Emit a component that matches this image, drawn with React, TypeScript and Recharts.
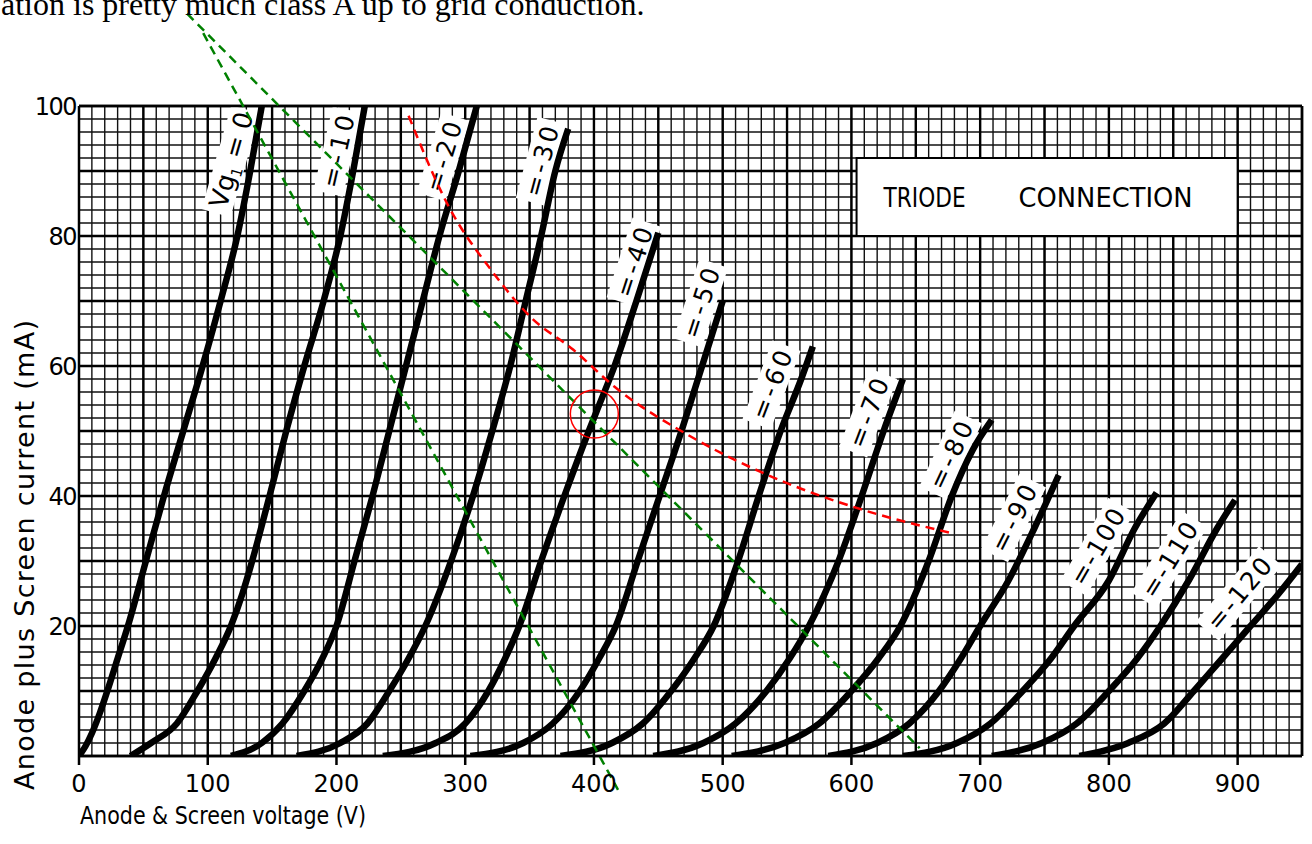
import React from "react";
import {
  LineChart,
  Line,
  XAxis,
  YAxis,
  CartesianGrid,
  ReferenceLine,
  ReferenceDot,
  ReferenceArea,
  Label,
} from "recharts";

// tick labels
const voltTicks = [0, 100, 200, 300, 400, 500, 600, 700, 800, 900];
const currentTicks = [20, 40, 60, 80, 100];

// graph paper rulings (V and mA)
const minorVolts = Array.from({ length: 94 }, (_, k) => (k + 1) * 10);
const majorVolts = Array.from({ length: 19 }, (_, k) => (k + 1) * 50);
const minorAmps = Array.from({ length: 49 }, (_, k) => (k + 1) * 2);
const majorAmps = [10, 20, 30, 40, 50, 60, 70, 80, 90, 100];
const VOLT_MAX = 950;

// anode characteristics, [volts, mA]
const vg0 = [[0, 0], [5, 1.5], [10, 3.5], [16, 6.5], [22, 10], [30, 15], [38, 20], [52, 30], [66, 40], [81, 50], [96, 60], [110, 70], [123, 80], [133, 90], [142, 100]];
const vg10 = [[40, 0], [56, 2], [76, 5], [92, 10], [106, 15], [118, 20], [127, 25], [134.5, 30], [148, 40], [161, 50], [175, 60], [190, 70], [203, 80], [213, 90], [222, 100]];
const vg20 = [[118, 0], [142, 2], [158, 5], [175, 10], [189, 15], [200, 20], [214, 30], [228, 40], [241, 50], [254, 60], [267, 70], [280, 80], [295, 90], [309, 100]];
const vg30 = [[169, 0], [203, 2], [224, 5], [241, 10], [256, 15], [269, 20], [289, 30], [306, 40], [321, 50], [335, 60], [347, 70], [359, 80], [370, 90], [380, 96.5]];
const vg40 = [[236, 0], [277, 2], [300, 5], [318, 10], [331, 15], [342, 20], [359, 30], [377, 40], [396, 50], [402, 53], [416, 60], [433, 70], [450, 80.5]];
const vg50 = [[304, 0], [345, 2], [368, 5], [389, 10], [404, 15], [417, 20], [434, 30], [451, 40], [468, 50], [484, 60], [500, 70]];
const vg60 = [[374, 0], [414, 2], [438, 5], [460, 10], [478, 15], [493, 20], [512, 30], [528, 40], [545, 50], [561, 58], [570, 63]];
const vg70 = [[446, 0], [485, 2], [510, 5], [534, 10], [552, 15], [567, 20], [590, 30], [608, 40], [625, 50], [640, 58]];
const vg80 = [[507, 0], [548, 2], [575, 5], [600, 10], [621, 15], [638, 20], [660, 30], [678, 40], [694, 47], [709, 51.7]];
const vg90 = [[582, 0], [620, 2], [645, 5], [668, 10], [685, 15], [700, 20], [722, 27], [742, 35], [761, 43.2]];
const vg100 = [[640, 0], [682, 2], [708, 5], [733, 10], [755, 15], [773, 20], [800, 27], [820, 35], [837, 40.5]];
const vg110 = [[709, 0], [748, 2], [775, 5], [800, 10], [822, 15], [840, 20], [862, 27], [884, 35], [898, 39.4]];
const vg120 = [[777, 0], [815, 2], [843, 5], [866, 10], [888, 15], [910, 20], [932, 25], [950, 29.5]];

// pencilled-in overlays
const loadLineSteep = [[96.5, 111.2], [418.7, -5.2]];
const loadLineShallow = [[84, 114.2], [653, 1.2]];
const dissipationLimit = [[256, 98.5], [287, 84.6], [320, 74.8], [351, 67.5], [384, 62.5], [416, 56.8], [473, 49.4], [540, 42.8], [610, 37.8], [680, 34.2]];
const workingPoint = { v: 400.3, i: 52.6 };

const curves = [
  { key: "0", pts: vg0, tag: { v: 118, i: 91.5, a: -74, len: 96 } },
  { key: "-10", pts: vg10, tag: { v: 201, i: 93, a: -77, len: 74 } },
  { key: "-20", pts: vg20, tag: { v: 283, i: 92.2, a: -73, len: 72 } },
  { key: "-30", pts: vg30, tag: { v: 359, i: 91.5, a: -75, len: 72 } },
  { key: "-40", pts: vg40, tag: { v: 431, i: 76, a: -72, len: 72 } },
  { key: "-50", pts: vg50, tag: { v: 483, i: 69.7, a: -72, len: 72 } },
  { key: "-60", pts: vg60, tag: { v: 538, i: 57.1, a: -69, len: 72 } },
  { key: "-70", pts: vg70, tag: { v: 613, i: 52.8, a: -69, len: 72 } },
  { key: "-80", pts: vg80, tag: { v: 677, i: 46.3, a: -65, len: 72 } },
  { key: "-90", pts: vg90, tag: { v: 726, i: 36.6, a: -63, len: 72 } },
  { key: "-100", pts: vg100, tag: { v: 791, i: 32.2, a: -60, len: 84 } },
  { key: "-110", pts: vg110, tag: { v: 847, i: 30.2, a: -58, len: 84 } },
  { key: "-120", pts: vg120, tag: { v: 901, i: 25, a: -50, len: 86 } },
];

const LETTER = "'DejaVu Sans', 'Liberation Sans', sans-serif";

const rows = (pts: number[][]) => pts.map(([v, i]) => ({ v, i }));

// vertical rulings placed through the x axis scale
const verticalAt = (list: number[]) => ({ xAxis, offset }: any) => {
  const s = xAxis && xAxis.scale;
  if (typeof s === "function") return list.map((v) => s(v));
  if (s && typeof s.map === "function") return list.map((v) => s.map(v));
  return list.map((v) => offset.left + (v / VOLT_MAX) * offset.width);
};

function CurveTag({ cx, cy, grid, a, len }: any) {
  return (
    <g transform={`translate(${cx},${cy}) rotate(${a})`}>
      <rect x={-len / 2 - 6} y={-15} width={len + 12} height={30} fill="#fff" />
      {grid === "0" ? (
        <text x={-len / 2} y={9} fontSize={26} fontFamily={LETTER} fill="#000">
          Vg
          <tspan fontSize={15} dy={5}>1</tspan>
          <tspan dy={-5}> = 0</tspan>
        </text>
      ) : (
        <text
          x={-len / 2}
          y={9}
          fontSize={25}
          fontFamily={LETTER}
          fill="#000"
          textLength={len}
          lengthAdjust="spacing"
        >
          {"=" + grid}
        </text>
      )}
    </g>
  );
}

export default function App() {
  return (
    <div style={{ position: "absolute", left: 0, top: 0, width: 1312, height: 844, background: "#fff", overflow: "hidden" }}>
      <style>{".unclipped, .unclipped *{clip-path:none !important}"}</style>
      <LineChart width={1312} height={844} margin={{ top: 106, right: 10, bottom: 0, left: 0 }}>
        <YAxis yAxisId="minor" type="number" domain={[0, 100]} ticks={minorAmps} interval={0} allowDataOverflow hide />
        <YAxis yAxisId="major" type="number" domain={[0, 100]} ticks={majorAmps} interval={0} allowDataOverflow hide />
        <CartesianGrid yAxisId="minor" vertical={false} stroke="#111" strokeWidth={1.4} />
        <CartesianGrid horizontal={false} verticalCoordinatesGenerator={verticalAt(minorVolts)} stroke="#111" strokeWidth={1.4} />
        <CartesianGrid yAxisId="major" vertical={false} stroke="#000" strokeWidth={2.4} />
        <CartesianGrid horizontal={false} verticalCoordinatesGenerator={verticalAt(majorVolts)} stroke="#000" strokeWidth={2.4} />

        <XAxis
          type="number"
          dataKey="v"
          domain={[0, VOLT_MAX]}
          ticks={voltTicks}
          interval={0}
          allowDataOverflow
          height={88}
          tickSize={9}
          tickMargin={10}
          axisLine={{ stroke: "#000", strokeWidth: 2.5 }}
          tickLine={{ stroke: "#000", strokeWidth: 2.5 }}
          tick={{ fill: "#000", fontSize: 24, fontFamily: LETTER }}
        >
          <Label
            content={({ viewBox }: any) => (
              <text
                x={viewBox.x + 1}
                y={viewBox.y + 68}
                fontSize={25}
                fontFamily={LETTER}
                fill="#000"
                textLength={286}
                lengthAdjust="spacingAndGlyphs"
              >
                Anode &amp; Screen voltage (V)
              </text>
            )}
          />
        </XAxis>
        <YAxis
          type="number"
          dataKey="i"
          domain={[0, 100]}
          ticks={currentTicks}
          interval={0}
          allowDataOverflow
          width={79}
          tickSize={0}
          tickMargin={3}
          tickLine={false}
          axisLine={{ stroke: "#000", strokeWidth: 2.5 }}
          tick={{ fill: "#000", fontSize: 24, fontFamily: LETTER, letterSpacing: -1.5 }}
        >
          <Label
            content={({ viewBox }: any) => (
              <text
                transform={`translate(${viewBox.x + 34},${viewBox.y + 684}) rotate(-90)`}
                fontSize={27}
                fontFamily={LETTER}
                fill="#000"
                textLength={470}
                lengthAdjust="spacing"
              >
                Anode plus Screen current (mA)
              </text>
            )}
          />
        </YAxis>

        <ReferenceLine y={100} stroke="#000" strokeWidth={2.5} />
        <ReferenceLine x={VOLT_MAX} stroke="#000" strokeWidth={2.5} />

        <ReferenceArea
          x1={604}
          x2={900}
          y1={80}
          y2={92}
          fill="#fff"
          fillOpacity={1}
          stroke="#000"
          strokeWidth={2}
          label={({ viewBox }: any) => (
            <g fontFamily={LETTER} fontSize={27} fill="#000">
              <text x={viewBox.x + 27} y={viewBox.y + 49} textLength={82} lengthAdjust="spacingAndGlyphs">TRIODE</text>
              <text x={viewBox.x + 162} y={viewBox.y + 49} textLength={174} lengthAdjust="spacingAndGlyphs">CONNECTION</text>
            </g>
          )}
        />

        {curves.map((c) => (
          <ReferenceDot
            key={"tag" + c.key}
            x={c.tag.v}
            y={c.tag.i}
            r={0}
            zIndex={350}
            shape={(p: any) => <CurveTag cx={p.cx} cy={p.cy} grid={c.key} a={c.tag.a} len={c.tag.len} />}
          />
        ))}

        {curves.map((c) => (
          <Line
            key={c.key}
            data={rows(c.pts)}
            dataKey="i"
            type="monotone"
            stroke="#000"
            strokeWidth={6.5}
            dot={false}
            isAnimationActive={false}
          />
        ))}

        <Line
          className="unclipped"
          data={rows(loadLineSteep)}
          dataKey="i"
          type="linear"
          stroke="#008000"
          strokeWidth={2.5}
          strokeDasharray="9 6"
          dot={false}
          isAnimationActive={false}
        />
        <Line
          className="unclipped"
          data={rows(loadLineShallow)}
          dataKey="i"
          type="linear"
          stroke="#008000"
          strokeWidth={2.5}
          strokeDasharray="9 6"
          dot={false}
          isAnimationActive={false}
        />
        <Line
          data={rows(dissipationLimit)}
          dataKey="i"
          type="monotone"
          stroke="#ff0000"
          strokeWidth={2.5}
          strokeDasharray="9 6"
          dot={false}
          isAnimationActive={false}
        />
        <ReferenceDot x={workingPoint.v} y={workingPoint.i} r={24} fill="none" stroke="#ff0000" strokeWidth={1.5} />
      </LineChart>
      <div
        style={{
          position: "absolute",
          left: 1,
          top: -12,
          fontFamily: "'Liberation Serif', 'Times New Roman', serif",
          fontSize: 32,
          lineHeight: "32px",
          whiteSpace: "nowrap",
          color: "#000",
        }}
      >
        ation is pretty much class A up to grid conduction.
      </div>
    </div>
  );
}
